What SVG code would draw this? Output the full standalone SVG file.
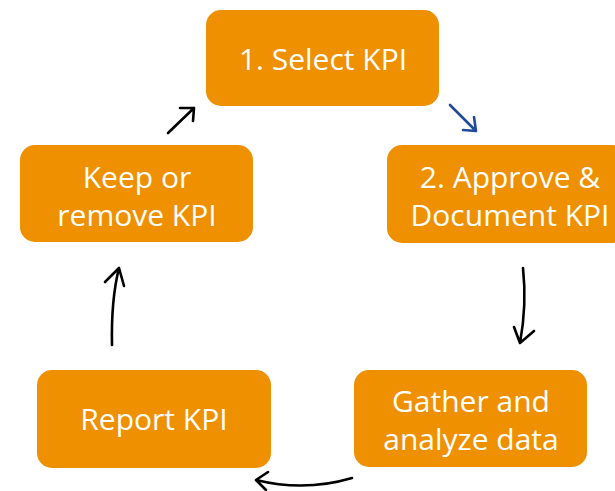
<svg xmlns="http://www.w3.org/2000/svg" width="615" height="491" viewBox="0 0 615 491">
<style>
.box{fill:#EF9000;}
.t{font-family:"Open Sans","Noto Sans",sans-serif;font-size:30px;fill:#fff;text-anchor:middle;}
.a{fill:none;stroke:#000;stroke-width:2.6;stroke-linecap:round;stroke-linejoin:round;}
.b{fill:none;stroke:#1F4A9A;stroke-width:2.6;stroke-linecap:round;stroke-linejoin:round;}
</style>
<rect width="615" height="491" fill="#fff"/>
<g id="n1"><rect class="box" x="206" y="10" width="233" height="96" rx="15"/><text class="t" x="323" y="70">1. Select KPI</text></g>
<g id="n2"><rect class="box" x="387" y="145" width="240" height="98" rx="15"/><text class="t" x="510" y="188">2. Approve &amp;</text><text class="t" x="510" y="226">Document KPI</text></g>
<g id="n3"><rect class="box" x="354" y="370" width="233" height="97" rx="15"/><text class="t" x="471" y="412">Gather and</text><text class="t" x="471" y="450">analyze data</text></g>
<g id="n4"><rect class="box" x="37" y="370" width="234" height="98" rx="15"/><text class="t" x="154" y="430">Report KPI</text></g>
<g id="n5"><rect class="box" x="20" y="145" width="233" height="97" rx="15"/><text class="t" x="137" y="188">Keep or</text><text class="t" x="137" y="226">remove KPI</text></g>
<g id="connectors">
<path class="a" d="M168,133 L194,108 M180,108 L194,108 L193,121"/>
<path class="b" d="M450,105 L476,131 M474,117 L476,131 L463,130"/>
<path class="a" d="M523,268 Q527,305 520,343 M514,327 L520,343 L534,331"/>
<path class="a" d="M352,478 Q305,492 256,480 M268,472 L256,480 L266,490"/>
<path class="a" d="M112,345 Q111,300 119,268 M105,282 L119,268 L124,286"/>
</g>
</svg>
